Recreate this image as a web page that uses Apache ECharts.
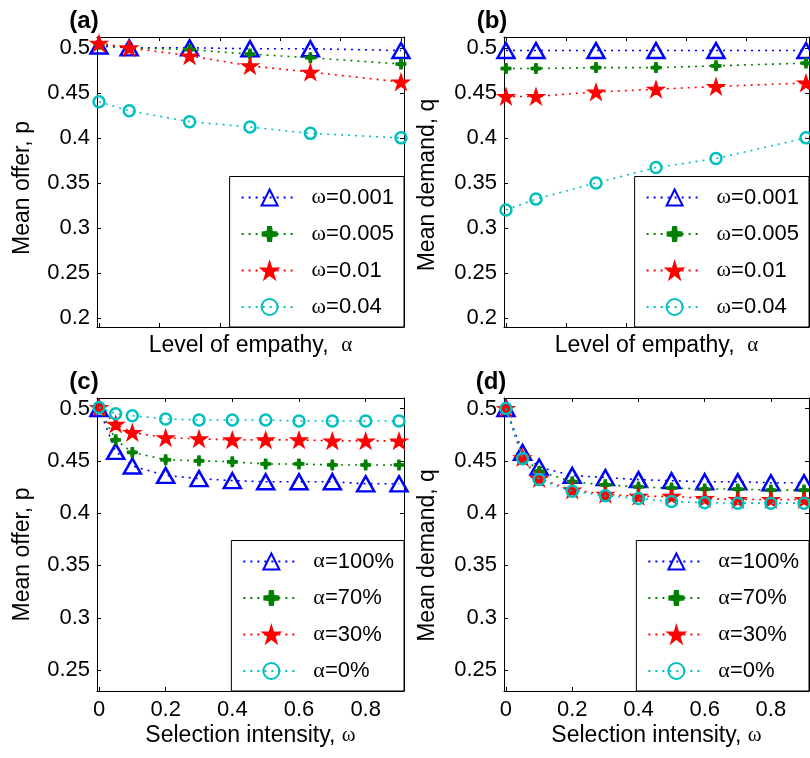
<!DOCTYPE html>
<html>
<head>
<meta charset="UTF-8">
<title>Mean offer and demand</title>
<script src="https://cdn.jsdelivr.net/npm/echarts@6.0.0/dist/echarts.min.js"></script>
<style>
	html, body { margin: 0; padding: 0; background: #fff; }
	#chart { width: 810px; height: 758px; }
</style>
</head>
<body>
<div id="chart"></div>
<script>
	// x values
	var alphaVals = [0, 0.1, 0.3, 0.5, 0.7, 1.0];
	var omegaVals = [0, 0.05, 0.1, 0.2, 0.3, 0.4, 0.5, 0.6, 0.7, 0.8, 0.9];

	// (a) mean offer vs level of empathy
	var offerW001 = [0.502, 0.500, 0.500, 0.499, 0.499, 0.497];
	var offerW005 = [0.504, 0.500, 0.498, 0.493, 0.489, 0.482];
	var offerW01  = [0.505, 0.500, 0.491, 0.480, 0.473, 0.462];
	var offerW04  = [0.440, 0.430, 0.418, 0.412, 0.405, 0.400];

	// (b) mean demand vs level of empathy
	var demandW001 = [0.497, 0.497, 0.497, 0.497, 0.497, 0.497];
	var demandW005 = [0.477, 0.477, 0.478, 0.478, 0.480, 0.483];
	var demandW01  = [0.446, 0.446, 0.451, 0.454, 0.457, 0.461];
	var demandW04  = [0.320, 0.332, 0.350, 0.367, 0.377, 0.400];

	// (c) mean offer vs selection intensity
	var offerA100 = [0.500, 0.459, 0.445, 0.436, 0.433, 0.431, 0.430, 0.430, 0.430, 0.428, 0.428];
	var offerA70  = [0.500, 0.470, 0.458, 0.451, 0.450, 0.449, 0.447, 0.447, 0.446, 0.446, 0.446];
	var offerA30  = [0.501, 0.485, 0.477, 0.472, 0.471, 0.470, 0.470, 0.470, 0.469, 0.469, 0.469];
	var offerA0   = [0.501, 0.495, 0.493, 0.490, 0.489, 0.489, 0.489, 0.488, 0.488, 0.488, 0.488];

	// (d) mean demand vs selection intensity
	var demandA100 = [0.500, 0.458, 0.444, 0.436, 0.434, 0.432, 0.431, 0.430, 0.430, 0.429, 0.429];
	var demandA70  = [0.500, 0.454, 0.440, 0.430, 0.427, 0.425, 0.424, 0.423, 0.423, 0.422, 0.422];
	var demandA30  = [0.500, 0.453, 0.433, 0.422, 0.418, 0.416, 0.416, 0.414, 0.413, 0.413, 0.413];
	var demandA0   = [0.500, 0.452, 0.432, 0.421, 0.4165, 0.414, 0.411, 0.410, 0.4095, 0.4095, 0.4095];

	// ticks
	var yTicksTop = [0.2, 0.25, 0.3, 0.35, 0.4, 0.45, 0.5];
	var yTicksBottom = [0.25, 0.3, 0.35, 0.4, 0.45, 0.5];
	var alphaTicks = [0, 0.2, 0.4, 0.6, 0.8, 1.0];
	var omegaTicks = [0, 0.2, 0.4, 0.6, 0.8];

	var namesTop = ['ω=0.001', 'ω=0.005', 'ω=0.01', 'ω=0.04'];
	var namesBottom = ['α=100%', 'α=70%', 'α=30%', 'α=0%'];

	var FONT = 'Liberation Sans';
	var SERIF = 'Liberation Serif';

	var starPath = 'path://M50,0 L61.23,34.55 L97.55,34.55 L68.16,55.9 L79.39,90.45 L50,69.1 L20.61,90.45 L31.84,55.9 L2.45,34.55 L38.77,34.55 Z';
	var plusPath = 'path://M35,0 H65 L69,31 L100,35 V65 L69,69 L65,100 H35 L31,69 L0,65 V35 L31,31 Z';

	// marker styles: blue triangle, green plus, red star, cyan circle
	var marks = [
		{color: '#0000ff', symbol: 'triangle', size: [17, 15],
			item: {color: 'rgba(0,0,0,0)', borderColor: '#0000ff', borderWidth: 2.5}},
		{color: '#008000', symbol: plusPath, size: 11,
			item: {color: '#008000'}},
		{color: '#ff0000', symbol: starPath, size: [16, 15],
			item: {color: '#ff0000', borderColor: '#ff0000', borderWidth: 1.5}},
		{color: '#00bfbf', symbol: 'circle', size: 11,
			item: {color: 'rgba(0,0,0,0)', borderColor: '#00bfbf', borderWidth: 2.5}}
	];

	var grids = [
		{left: 97, top: 37, width: 307, height: 290},
		{left: 504, top: 37, width: 305, height: 290},
		{left: 97, top: 398, width: 307, height: 293},
		{left: 504, top: 398, width: 305, height: 293}
	];

	var axisLine = {show: true, onZero: false, lineStyle: {color: '#000', width: 1}};
	var labelStyle = {color: '#000', fontFamily: FONT, fontSize: 22};
	var nameStyle = {color: '#000', fontFamily: FONT, fontSize: 23,
		rich: {g: {fontFamily: SERIF, fontSize: 21, color: '#000'}}};

	var xAxes = [], yAxes = [];

	function addX(gi, min, max, ticks, showLabels, name, gap) {
		xAxes.push({
			type: 'value', gridIndex: gi, position: 'bottom', min: min, max: max,
			axisLine: axisLine,
			axisTick: {show: true, inside: true, length: 4, customValues: ticks, lineStyle: {color: '#000'}},
			axisLabel: {show: showLabels, customValues: ticks, margin: 8, textStyle: labelStyle},
			splitLine: {show: false},
			name: name, nameLocation: 'middle', nameGap: gap, nameTextStyle: nameStyle
		});
		xAxes.push({
			type: 'value', gridIndex: gi, position: 'top', min: min, max: max,
			axisLine: axisLine,
			axisTick: {show: true, inside: true, length: 4, customValues: ticks, lineStyle: {color: '#000'}},
			axisLabel: {show: false},
			splitLine: {show: false}
		});
	}

	function addY(gi, min, max, ticks, name, gap, shift) {
		var ns = echarts.util.merge({padding: [0, shift, 0, 0]}, nameStyle);
		yAxes.push({
			type: 'value', gridIndex: gi, position: 'left', min: min, max: max,
			axisLine: axisLine,
			axisTick: {show: true, inside: true, length: 4, customValues: ticks, lineStyle: {color: '#000'}},
			axisLabel: {customValues: ticks, margin: 7, textStyle: labelStyle},
			splitLine: {show: false},
			name: name, nameLocation: 'middle', nameGap: gap, nameTextStyle: ns
		});
		yAxes.push({
			type: 'value', gridIndex: gi, position: 'right', min: min, max: max,
			axisLine: axisLine,
			axisTick: {show: true, inside: true, length: 4, customValues: ticks, lineStyle: {color: '#000'}},
			axisLabel: {show: false},
			splitLine: {show: false}
		});
	}

	addX(0, -0.0066, 1.01, alphaTicks, false, 'Level of empathy,  {g|α}', 7);
	addX(1, -0.0066, 1.01, alphaTicks, false, 'Level of empathy,  {g|α}', 7);
	addX(2, -0.006, 0.915, omegaTicks, true, 'Selection intensity, {g|ω}', 33);
	addX(3, -0.006, 0.915, omegaTicks, true, 'Selection intensity, {g|ω}', 33);

	addY(0, 0.19, 0.512, yTicksTop, 'Mean offer, p', 63, 12);
	addY(1, 0.19, 0.512, yTicksTop, 'Mean demand, q', 65, 6);
	addY(2, 0.23, 0.51, yTicksBottom, 'Mean offer, p', 63, 20);
	addY(3, 0.23, 0.51, yTicksBottom, 'Mean demand, q', 65, 22);

	var series = [];
	function addSeries(gi, names, xs, list) {
		for (var k = 0; k < list.length; k++) {
			var m = marks[k];
			series.push({
				name: names[k], type: 'line',
				xAxisIndex: gi * 2, yAxisIndex: gi * 2,
				data: xs.map(function (x, i) { return [x, list[k][i]]; }),
				symbol: m.symbol, symbolSize: m.size, showAllSymbol: true,
				lineStyle: {color: m.color, width: 1.6, type: [2, 5]},
				itemStyle: m.item,
				emphasis: {disabled: true},
				z: 2 + k
			});
		}
	}
	addSeries(0, namesTop, alphaVals, [offerW001, offerW005, offerW01, offerW04]);
	addSeries(1, namesTop, alphaVals, [demandW001, demandW005, demandW01, demandW04]);
	addSeries(2, namesBottom, omegaVals, [offerA100, offerA70, offerA30, offerA0]);
	addSeries(3, namesBottom, omegaVals, [demandA100, demandA70, demandA30, demandA0]);

	function makeLegend(names, right, bottom) {
		return {
			data: names, orient: 'vertical', right: right, bottom: bottom,
			itemWidth: 56, itemHeight: 20, itemGap: 14.5,
			padding: [10, 10, 9, 11],
			backgroundColor: '#fff', borderColor: '#000', borderWidth: 1, borderRadius: 0,
			selectedMode: false, z: 10,
			textStyle: {fontFamily: FONT, fontSize: 22, color: '#000', lineHeight: 20,
				rich: {
					s: {width: 9, lineHeight: 20},
					g: {fontFamily: SERIF, fontSize: 22, color: '#000', lineHeight: 20}
				}},
			formatter: function (n) { return '{s| }{g|' + n.charAt(0) + '}' + n.slice(1); }
		};
	}

	function panelLabel(text, x, y) {
		return {type: 'text', x: x, y: y, z: 20,
			style: {text: text, fill: '#000', font: 'bold 24px ' + FONT,
				align: 'center', verticalAlign: 'middle', textAlign: 'center', textVerticalAlign: 'middle'}};
	}

	var chart = echarts.init(document.getElementById('chart'));
	chart.setOption({
		animation: false,
		backgroundColor: '#fff',
		grid: grids,
		xAxis: xAxes,
		yAxis: yAxes,
		legend: [
			makeLegend(namesTop, 406, 431),
			makeLegend(namesTop, 1, 431),
			makeLegend(namesBottom, 406, 67),
			makeLegend(namesBottom, 1, 67)
		],
		graphic: [
			panelLabel('(a)', 84, 21),
			panelLabel('(b)', 492, 21),
			panelLabel('(c)', 84, 382),
			panelLabel('(d)', 491, 382)
		],
		series: series
	});
</script>
</body>
</html>
